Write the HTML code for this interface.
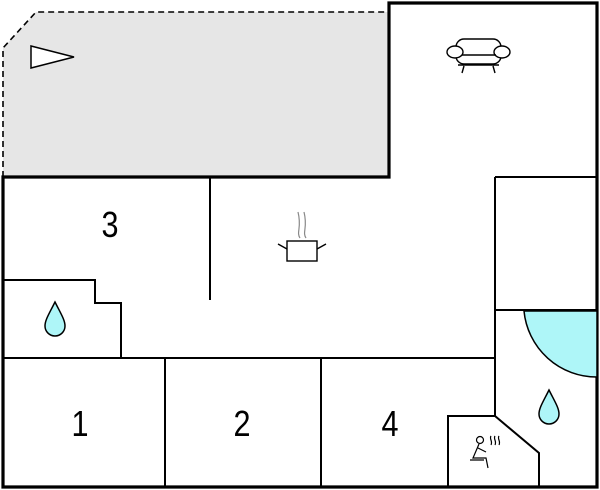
<!DOCTYPE html>
<html><head><style>body{margin:0;background:#fff}svg{display:block}</style></head><body>
<svg width="600" height="490" viewBox="0 0 600 490" xmlns="http://www.w3.org/2000/svg" font-family="Liberation Sans, sans-serif">
<path d="M3,177 L3,48 L36,12 L389,12 L389,177 Z" fill="#e6e6e6"/>
<path d="M3,177 L3,48 L36,12 L389,12" fill="none" stroke="#000" stroke-width="1.6" stroke-dasharray="6,4"/>
<path d="M3,487 L3,177 L389,177 L389,3 L597,3 L597,487 Z" fill="none" stroke="#000" stroke-width="3.2"/>
<g fill="none" stroke="#000" stroke-width="2">
<path d="M3,487 L597,487"/>
<path d="M210,177 L210,300"/>
<path d="M495,177 L597,177 M495,177 L495,416"/>
<path d="M495,310 L597,310"/>
<path d="M3,358 L495,358"/>
<path d="M165,358 L165,487 M321,358 L321,487"/>
<path d="M3,280 L95,280 L95,303 L121,303 L121,358"/>
<path d="M448,487 L448,416 L495,416 L539,453 L539,487"/>
</g>
<path d="M524,311 A73,73 0 0 0 597,377 L597,311 Z" fill="#aef6f8" stroke="#000" stroke-width="1.5"/>
<path d="M549,390 C543,402 539,408 539,414 A10,10 0 0 0 559,414 C559,408 555,402 549,390 Z" fill="#aef6f8" stroke="#000" stroke-width="1.5"/>
<path d="M55,302 C49,314 45,320 45,326 A10,10 0 0 0 65,326 C65,320 61,314 55,302 Z" fill="#aef6f8" stroke="#000" stroke-width="1.5"/>
<path d="M31,46 L31,68 L74,57 Z" fill="#fff" stroke="#000" stroke-width="1.5"/>
<g fill="none" stroke="#000" stroke-width="1.4">
<rect x="456" y="39" width="45" height="25" rx="8" fill="#fff"/>
<ellipse cx="455" cy="52" rx="8" ry="6" fill="#fff"/><ellipse cx="502" cy="52" rx="8" ry="6" fill="#fff"/>
<path d="M462,55 L496,55 M464,66 L462,73 M493,66 L495,73 M458,65 L499,65"/>
<rect x="287" y="241" width="30" height="20"/>
<path d="M278,244 L287,249 M326,244 L317,249"/>
</g>
<path d="M300,238 C296,232 302,228 298,212 M306,238 C302,232 308,228 304,212" fill="none" stroke="#888" stroke-width="1.2"/>
<g fill="none" stroke="#000" stroke-width="1.2">
<circle cx="480" cy="440" r="3.5"/>
<path d="M479,444 L473,458 L486,458 L488,468 M470,460 L484,460 M478,448 L486,452"/>
<path d="M491,436 c-2,3 2,5 0,9 M495,436 c-2,3 2,5 0,9 M499,436 c-2,3 2,5 0,9"/>
</g>
<g font-size="36" text-anchor="middle" fill="#000">
<text transform="translate(110,237) scale(0.85,1)">3</text>
<text transform="translate(80,436) scale(0.85,1)">1</text>
<text transform="translate(242,436) scale(0.85,1)">2</text>
<text transform="translate(390,436) scale(0.85,1)">4</text>
</g>
</svg>
</body></html>
